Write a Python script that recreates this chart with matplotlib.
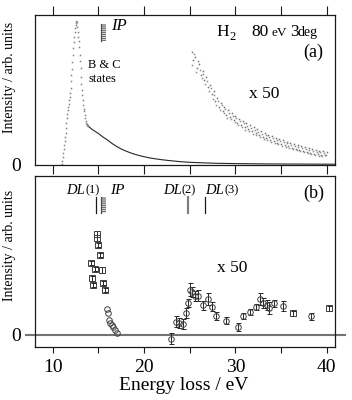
import matplotlib
matplotlib.use('Agg')
import matplotlib.pyplot as plt
import matplotlib.transforms as mtransforms
from matplotlib.patches import Rectangle
import numpy as np

plt.rcParams['font.family'] = ['Liberation Serif', 'DejaVu Serif']

# ---------------- data: panel (a) ----------------
# B & C states peak region (energy grid 0.05 eV)
peak_x = np.round(np.arange(10.95, 13.91, 0.05), 2)
peak_y = [0, 1, 4, 8, 12, 16, 20, 24, 28, 32,
          37, 42, 47, 51, 55, 58, 61, 65, 68, 72,
          77, 84, 90, 96, 103, 110, 117, 123, 128, 133,
          137, 140, 142, 144, 143, 138, 133, 128, 124, 118,
          110, 104, 97, 88, 81, 75, 70, 65, 60, 56,
          54, 50, 47, 44, 42, 41, 40, 39.5, 39, 38.5]
# continuum tail
tail_x = [13.9, 14.0, 14.25, 14.5, 14.75, 15.0, 15.5, 16.0, 16.5, 17.0, 17.5, 18.0,
          18.5, 19.0, 19.5, 20.0, 20.5, 21.0, 22.0, 23.0, 24.0, 25.0, 26.0, 27.0,
          28.0, 30.0, 32.0, 35.0, 38.0, 40.9]
tail_y = [38.5, 37.5, 35.5, 34, 32.5, 31, 27.5, 24.5, 21, 18, 15.5, 13.5,
          11.7, 10.2, 8.9, 7.8, 6.8, 6.0, 4.7, 3.7, 2.8, 2.2, 1.8, 1.5,
          1.2, 0.9, 0.7, 0.5, 0.4, 0.3]
# x50 magnified region, two scans (grid 0.2 eV, offset 0.1 eV)
x50a_x = np.round(np.arange(25.2, 40.01, 0.2), 2)
x50a_y = [113, 105, 108, 97, 101, 90, 94, 85, 88, 78,
          80, 71, 74, 64, 67, 58, 62, 54, 58, 50,
          55, 48, 52, 45, 49, 42, 46, 40, 44, 38,
          42, 36, 40, 34, 38, 32, 36, 30, 34, 28,
          32, 27, 30, 25, 29, 24, 27, 22, 26, 21,
          25, 20, 23, 19, 22, 17, 21, 16, 20, 15,
          19, 14, 18, 13, 17, 12, 16, 11, 15, 11,
          14, 10, 14, 10, 13]
x50b_x = np.round(np.arange(25.3, 39.91, 0.2), 2)
x50b_y = [100, 111, 93, 104, 95, 87, 91, 81, 84, 74,
          77, 66, 70, 60, 64, 55, 60, 52, 56, 47,
          52, 46, 49, 43, 47, 40, 44, 38, 42, 35,
          39, 34, 37, 31, 35, 30, 33, 28, 31, 26,
          30, 25, 28, 23, 27, 22, 25, 21, 24, 19,
          23, 18, 22, 17, 20, 16, 19, 15, 18, 14,
          17, 13, 16, 12, 15, 11, 14, 10, 13, 9,
          13, 9, 12, 10]

# ---------------- data: panel (b) ----------------
sq_x = [14.85, 14.90, 15.00, 15.18, 14.19, 14.63, 15.43, 14.34, 14.45, 15.54, 15.73]
sq_y = [101, 97, 89.7, 79.7, 71.4, 65.4, 64.7, 56.4, 49.7, 52, 44.7]
sq_e = [3, 3, 2, 2, 2, 2, 3, 2.5, 2, 2, 2]
ci_x = [15.91, 16.02, 16.17, 16.31, 16.46, 16.64, 16.82, 17.0]
ci_y = [25.7, 22, 14.7, 12, 9.7, 7.4, 4.7, 2]
ce_x = [23.0, 23.5, 23.85, 24.25, 24.6, 24.82, 25.04, 25.22, 25.55, 25.95, 26.47,
        27.0, 27.48, 27.92, 28.94, 30.24, 30.88, 31.6, 32.25, 32.65, 33.03, 33.47,
        33.72, 34.24, 35.22, 38.26]
ce_y = [-4, 13, 12, 11, 21.5, 31.7, 45, 43, 39, 39, 29.7,
        35.4, 28, 18.3, 14, 8, 18.7, 23, 28, 35.4, 32, 29.7,
        26.4, 31.4, 28.7, 18.7]
ce_e = [5.3, 5.5, 5, 5, 5, 4, 6.5, 5, 5, 5.5, 4.5,
        6, 4.5, 4, 3.5, 4, 3, 3, 3, 6, 5, 5,
        6, 3.5, 5, 3.5]
sq2_x = [36.29, 40.19]
sq2_y = [21.4, 26.4]
sq2_e = [2.5, 2.5]

dl_pos = [14.71, 24.79, 26.68]
ip_pos = (15.3, 15.85)

xticks = [10, 15, 20, 25, 30, 35, 40]
xticklabels_b = ['10', '', '20', '', '30', '', '40']

W, H = 352, 400
fig = plt.figure(figsize=(W / 100, H / 100), dpi=100)

def ftxt(px, py, s, **kw):
    kw.setdefault('va', 'baseline')
    kw.setdefault('ha', 'left')
    fig.text(px / W, 1 - py / H, s, **kw)

axA = fig.add_axes([35 / W, 1 - 164.5 / H, 300 / W, (164.5 - 15) / H])
axB = fig.add_axes([35 / W, 1 - 346.7 / H, 300 / W, (346.7 - 176) / H])

for ax in (axA, axB):
    ax.set_xlim(8.06, 40.9)
    ax.set_xticks(xticks)
    for sp in ax.spines.values():
        sp.set_linewidth(0.9)
        sp.set_color('0.1')
    ax.set_yticks([0])
    ax.set_yticklabels(['0'])
    ax.tick_params(axis='y', length=0, pad=10, labelsize=14)

# ---- panel (a)
axA.set_ylim(0, 149.5)
axA.tick_params(axis='x', direction='out', top=True, bottom=True, labelbottom=False,
                length=6.5, width=0.8, color='0.1')
axA.plot(tail_x, tail_y, color='0.15', lw=0.8)
axA.plot(peak_x, peak_y, ls='none', marker='s', ms=1.1, mew=0, color='0.5')
axA.plot(x50a_x, x50a_y, ls='none', marker='s', ms=1.1, mew=0, color='0.45')
axA.plot(x50b_x, x50b_y, ls='none', marker='s', ms=1.1, mew=0, color='0.55')
axA.plot([ip_pos[0], ip_pos[0]], [123.6, 140.3], color='0.3', lw=0.9)
axA.add_patch(Rectangle((ip_pos[0], 123.6), ip_pos[1] - ip_pos[0], 140.3 - 123.6,
                        facecolor='none', edgecolor='0.45', hatch='--------', lw=0))

# ---- panel (b)
axB.set_ylim(-12, 158.7)
axB.set_xticks(xticks)
axB.set_xticklabels(xticklabels_b)
axB.tick_params(axis='x', direction='out', top=False, length=4.5, width=0.8,
                labelsize=14, pad=4, color='0.1')
trans = mtransforms.blended_transform_factory(axB.transAxes, axB.transData)
axB.plot([-0.03, 1.033], [0, 0], transform=trans, clip_on=False, color='0.45', lw=1.5)

ekw = dict(ls='none', ms=4.0, mfc='none', mec='0.25', mew=0.7, ecolor='0.15',
           elinewidth=0.7, capsize=1.8, capthick=0.7)
axB.errorbar(sq_x, sq_y, yerr=sq_e, marker='s', **ekw)
axB.errorbar(sq2_x, sq2_y, yerr=sq2_e, marker='s', **ekw)
axB.errorbar(ce_x, ce_y, yerr=ce_e, marker='o', **ekw)
axB.plot(ci_x, ci_y, ls='none', marker='o', ms=4.0, mfc='none', mec='0.25', mew=0.7)

axB.plot([dl_pos[0]] * 2, [121.4, 138], color='0.1', lw=0.9)
axB.plot([dl_pos[1]] * 2, [121.4, 137.4], color='0.5', lw=1.6)
axB.plot([dl_pos[2]] * 2, [121.4, 137.4], color='0.1', lw=0.9)
axB.plot([ip_pos[0]] * 2, [121.4, 137.6], color='0.3', lw=0.9)
axB.add_patch(Rectangle((ip_pos[0], 121.4), ip_pos[1] - ip_pos[0], 137.6 - 121.4,
                        facecolor='none', edgecolor='0.45', hatch='--------', lw=0))

# ---- texts
ftxt(9.5, 77.5, 'Intensity / arb. units', rotation=90, ha='center', va='center', size=10)
ftxt(9.5, 245.5, 'Intensity / arb. units', rotation=90, ha='center', va='center', size=10)
ftxt(183.7, 385, 'Energy loss / eV', ha='center', va='center', size=14)

ftxt(111, 30.5, 'IP', style='italic', size=12)
ftxt(88.3, 68, 'B & C', size=9)
ftxt(88.3, 81.5, 'states', size=9)
ftxt(263.8, 94, 'x 50', size=12.5, ha='center', va='center')
ftxt(313, 52.8, '(a)', size=13, ha='center', va='center')
ftxt(216.5, 36, 'H', size=12.5)
ftxt(229.5, 39.5, '2', size=9)
ftxt(251.7, 36, '80', size=12.5)
ftxt(271.7, 36, 'eV', size=9.5)
ftxt(290, 36, '3', size=12.5)
ftxt(297.5, 36, 'deg', size=10)

for right, num in ((85, '(1)'), (181.7, '(2)'), (224.3, '(3)')):
    ftxt(right, 193.5, 'DL', style='italic', size=10.5, ha='right')
    ftxt(right, 193.5, num, size=9)
ftxt(110, 193.5, 'IP', style='italic', size=11)
ftxt(313.3, 193, '(b)', size=13, ha='center', va='center')
ftxt(231.8, 267.5, 'x 50', size=12.5, ha='center', va='center')

fig.savefig('out.png', dpi=100)
